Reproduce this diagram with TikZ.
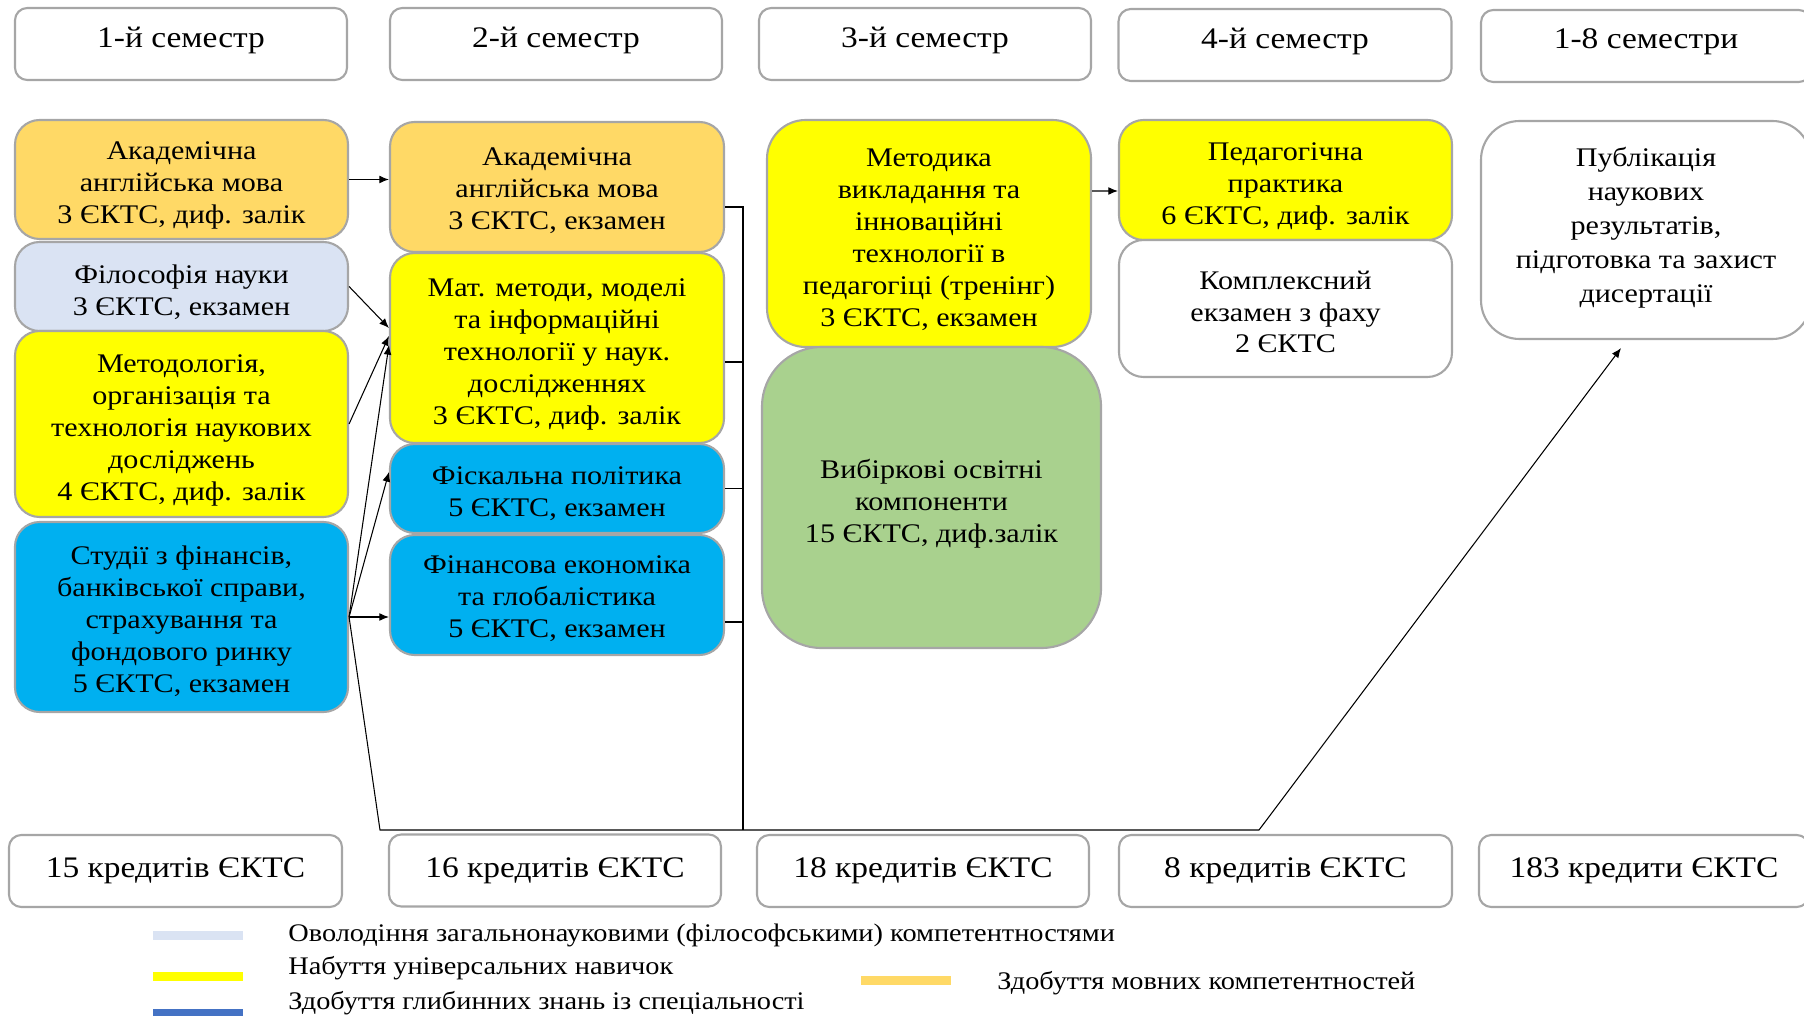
\documentclass[tikz,border=0pt]{standalone}
\usepackage{fontspec}
\setmainfont{Liberation Serif}[FakeStretch=1.12]
\usetikzlibrary{positioning}
\usetikzlibrary{arrows.meta}

\definecolor{frame}{HTML}{A6A6A6}
\definecolor{langor}{HTML}{FFD966}
\definecolor{philblue}{HTML}{DAE3F3}
\definecolor{unyellow}{HTML}{FFFF00}
\definecolor{specblue}{HTML}{00B0F0}
\definecolor{electgreen}{HTML}{A9D18E}
\definecolor{legblue}{HTML}{4472C4}

% taller first line pushes the text block down a little
\newcommand{\topgap}[1]{\rule{0pt}{#1}}

\tikzset{
  sz/.style 2 args={minimum width=#1*0.02cm, minimum height=#2*0.02cm},
  sem/.style={draw=frame, line width=1.2pt, rounded corners=7pt, fill=white, align=center, inner sep=1pt, font=\fontsize{17}{20}\selectfont},
  semtop/.style={sem, text depth=8pt},
  course/.style={draw=frame, line width=1.2pt, rounded corners=14pt, align=center, inner sep=1pt, font=\fontsize{15.3}{18.2}\selectfont},
  link/.style={line width=0.6pt},
  swatch/.style={minimum width=90*0.02cm, minimum height=9*0.02cm, inner sep=0pt},
  legend/.style={anchor=west, inner sep=0pt, font=\fontsize{14.4}{17}\selectfont},
}

\begin{document}
\begin{tikzpicture}[x=0.02cm, y=-0.02cm, >={Latex[length=5.5pt,width=4.5pt]}]
\useasboundingbox (0,0) rectangle (1804,1016);

% semesters
\node[semtop, sz={332}{72}] (h1) at (181,44) {1-й семестр};
\node[semtop, sz={332}{72}] (h2) at (556,44) {2-й семестр};
\node[semtop, sz={332}{72}] (h3) at (925,44) {3-й семестр};
\node[semtop, sz={333}{72}] (h4) at (1285,45) {4-й семестр};
\node[semtop, sz={330}{72}] (h5) at (1646,46) {1-8 семестри};

% 1st semester
\node[course, fill=langor, sz={333}{119}] (a1) at (181.5,179.5) {\topgap{17pt}Академічна\\англійська мова\\3 ЄКТС, диф. залік};
\node[course, fill=philblue, sz={333}{89}] (f1) at (181.5,286.5) {\topgap{16.6pt}Філософія науки\\3 ЄКТС, екзамен};
\node[course, fill=unyellow, sz={333}{186}] (m1) at (181.5,424) {\topgap{17pt}Методологія,\\організація та\\технологія наукових\\досліджень\\4 ЄКТС, диф. залік};
\node[course, fill=specblue, sz={333}{190}] (s1) at (181.5,617) {\topgap{15.3pt}Студії з фінансів,\\банківської справи,\\страхування та\\фондового ринку\\5 ЄКТС, екзамен};

% 2nd semester
\node[course, fill=langor, sz={334}{130}] (a2) at (557,187) {\topgap{14pt}Академічна\\англійська мова\\3 ЄКТС, екзамен};
\node[course, fill=unyellow, sz={334}{190}] (m2) at (557,348) {\topgap{17pt}Мат. методи, моделі\\та інформаційні\\технології у наук.\\дослідженнях\\3 ЄКТС, диф. залік};
\node[course, fill=specblue, sz={334}{89}] (f2) at (557,488.5) {\topgap{15.7pt}Фіскальна політика\\5 ЄКТС, екзамен};
\node[course, fill=specblue, sz={334}{120}] (g2) at (557,595) {\topgap{14.4pt}Фінансова економіка\\та глобалістика\\5 ЄКТС, екзамен};

% 3rd semester
\node[course, fill=unyellow, rounded corners=22pt, sz={324}{227}] (t3) at (929,233.5) {\topgap{17pt}Методика\\викладання та\\інноваційні\\технології в\\педагогіці (тренінг)\\3 ЄКТС, екзамен};
\node[course, fill=electgreen, rounded corners=34pt, sz={339}{301}] (v3) at (931.5,497.5) {\topgap{18.3pt}Вибіркові освітні\\компоненти\\15 ЄКТС, диф.залік};

% 4th semester
\node[course, fill=unyellow, sz={333}{120}] (p4) at (1285.5,180) {\topgap{17pt}Педагогічна\\практика\\6 ЄКТС, диф. залік};
\node[course, fill=white, sz={333}{137}] (k4) at (1285.5,308.5) {\topgap{14.4pt}Комплексний\\екзамен з фаху\\2 ЄКТС};

% 1-8 semesters
\node[course, fill=white, rounded corners=22pt, sz={330}{218}, text depth=6pt, font=\fontsize{15.3}{19.3}\selectfont] (r5) at (1646,230) {Публікація\\наукових\\результатів,\\підготовка та захист\\дисертації};

% credits
\node[sem, sz={333}{72}] (b1) at (175.5,871) {15 кредитів ЄКТС};
\node[sem, sz={332}{72}] (b2) at (555,870.5) {16 кредитів ЄКТС};
\node[sem, sz={332}{72}] (b3) at (923,871) {18 кредитів ЄКТС};
\node[sem, sz={333}{72}] (b4) at (1285.5,871) {8 кредитів ЄКТС};
\node[sem, sz={330}{72}] (b5) at (1644,871) {183 кредити ЄКТС};

% arrows
\draw[link,->] (a1.east) -- (a1.east -| a2.west);
\draw[link,->] (f1.east) -- ([yshift=0.4cm]m2.west);
\draw[link,->] (m1.east) -- ([yshift=0.24cm]m2.west);
\draw[link,->] (s1.east) -- ([yshift=0.06cm]m2.west);
\draw[link,->] (s1.east) -- ([yshift=0.33cm]f2.west);
\draw[link,->] (s1.east) -- (s1.east -| g2.west);
\coordinate (j1) at (380,830);
\coordinate (j2) at (1259,830);
\draw[link,->] (s1.east) -- (j1) -- (j2) -- ([xshift=-0.5cm,yshift=-0.16cm]r5.south);
\coordinate (bb) at (743,830);
\draw[link] ([yshift=-0.4cm]a2.east) -| (bb);
\draw[link] ([yshift=-0.28cm]m2.east) -- ++(19,0);
\draw[link] (f2.east) -- ++(19,0);
\draw[link] ([yshift=-0.54cm]g2.east) -- ++(19,0);
\draw[link,->] ([yshift=0.85cm]t3.east) -- ([yshift=-0.22cm]p4.west);

% legend
\node[swatch, fill=philblue] (sw1) at (198,935) {};
\node[legend] (l1) at (288,935) {Оволодіння загальнонауковими (філософськими) компетентностями};
\node[swatch, fill=unyellow] (sw2) at (198,976) {};
\node[legend] (l2) at (288,968) {Набуття універсальних навичок};
\node[swatch, fill=legblue] (sw3) at (198,1013) {};
\node[legend] (l3) at (288,1003) {Здобуття глибинних знань із спеціальності};
\node[swatch, fill=langor] (sw4) at (906,980) {};
\node[legend] (l4) at (997,983) {Здобуття мовних компетентностей};
\end{tikzpicture}
\end{document}
